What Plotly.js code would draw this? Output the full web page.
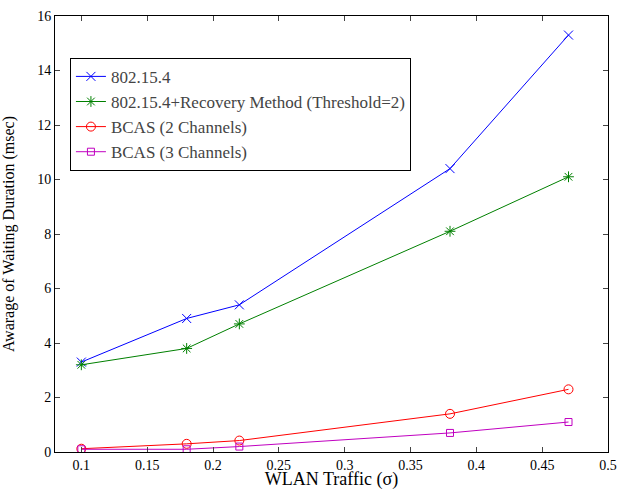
<!DOCTYPE html>
<html>
<head>
<meta charset="utf-8">
<script src="https://cdn.plot.ly/plotly-3.0.1.min.js"></script>
<style>html,body{margin:0;padding:0;background:#fff;}#chart{width:624px;height:490px;}</style>
</head>
<body>
<div id="chart"></div>
<script>
var traffic = [0.1, 0.18, 0.22, 0.38, 0.47];
var std802 = [3.3, 4.9, 5.4, 10.4, 15.3];
var recovery = [3.2, 3.8, 4.7, 8.1, 10.1];
var bcas2 = [0.12, 0.3, 0.42, 1.4, 2.3];
var bcas3 = [0.1, 0.1, 0.2, 0.7, 1.1];
var names = ['802.15.4', '802.15.4+Recovery Method (Threshold=2)', 'BCAS (2 Channels)', 'BCAS (3 Channels)'];
var xTicks = [0.1, 0.15, 0.2, 0.25, 0.3, 0.35, 0.4, 0.45, 0.5];
var xTickText = ['0.1', '0.15', '0.2', '0.25', '0.3', '0.35', '0.4', '0.45', '0.5'];
var yTicks = [0, 2, 4, 6, 8, 10, 12, 14, 16];

function tr(y, name, color, sym) {
  return {x: traffic, y: y, name: name, type: 'scatter', mode: 'lines+markers',
    line: {color: color, width: 1},
    marker: {symbol: sym, size: 9, color: color, line: {color: color, width: 1}}};
}
var data = [
  tr(std802, names[0], '#0000ff', 'x-thin-open'),
  tr(recovery, names[1], '#008000', 'asterisk-open'),
  tr(bcas2, names[2], '#ff0000', 'circle-open'),
  tr(bcas3, names[3], '#c000c0', 'square-open')
];
data[3].marker.size = 7;
var font = 'Liberation Serif';
var layout = {
  width: 624, height: 490,
  margin: {l: 55, r: 16, t: 16, b: 38},
  font: {family: font, size: 14},
  showlegend: true,
  legend: {x: 0.027, y: 0.904, xanchor: 'left', yanchor: 'top', bordercolor: '#000', borderwidth: 1,
    bgcolor: '#fff', font: {family: font, size: 17}},
  xaxis: {range: [0.08, 0.5], tickvals: xTicks, ticktext: xTickText, ticks: 'inside', ticklen: 5,
    showgrid: false, zeroline: false, showline: true, linecolor: '#000', linewidth: 1, mirror: 'ticks',
    tickfont: {family: font, size: 14, color: '#000'}, automargin: false,
    title: {text: 'WLAN Traffic (σ)', font: {family: font, size: 18, color: '#000'}, standoff: 7}},
  yaxis: {range: [0, 16], tickvals: yTicks, ticks: 'inside', ticklen: 5,
    showgrid: false, zeroline: false, showline: true, linecolor: '#000', linewidth: 1, mirror: 'ticks',
    tickfont: {family: font, size: 14, color: '#000'}, automargin: false,
    title: {text: 'Awarage of Waiting Duration (msec)', font: {family: font, size: 16, color: '#000'}}}
};
Plotly.newPlot('chart', data, layout, {displayModeBar: false});
</script>
</body>
</html>
